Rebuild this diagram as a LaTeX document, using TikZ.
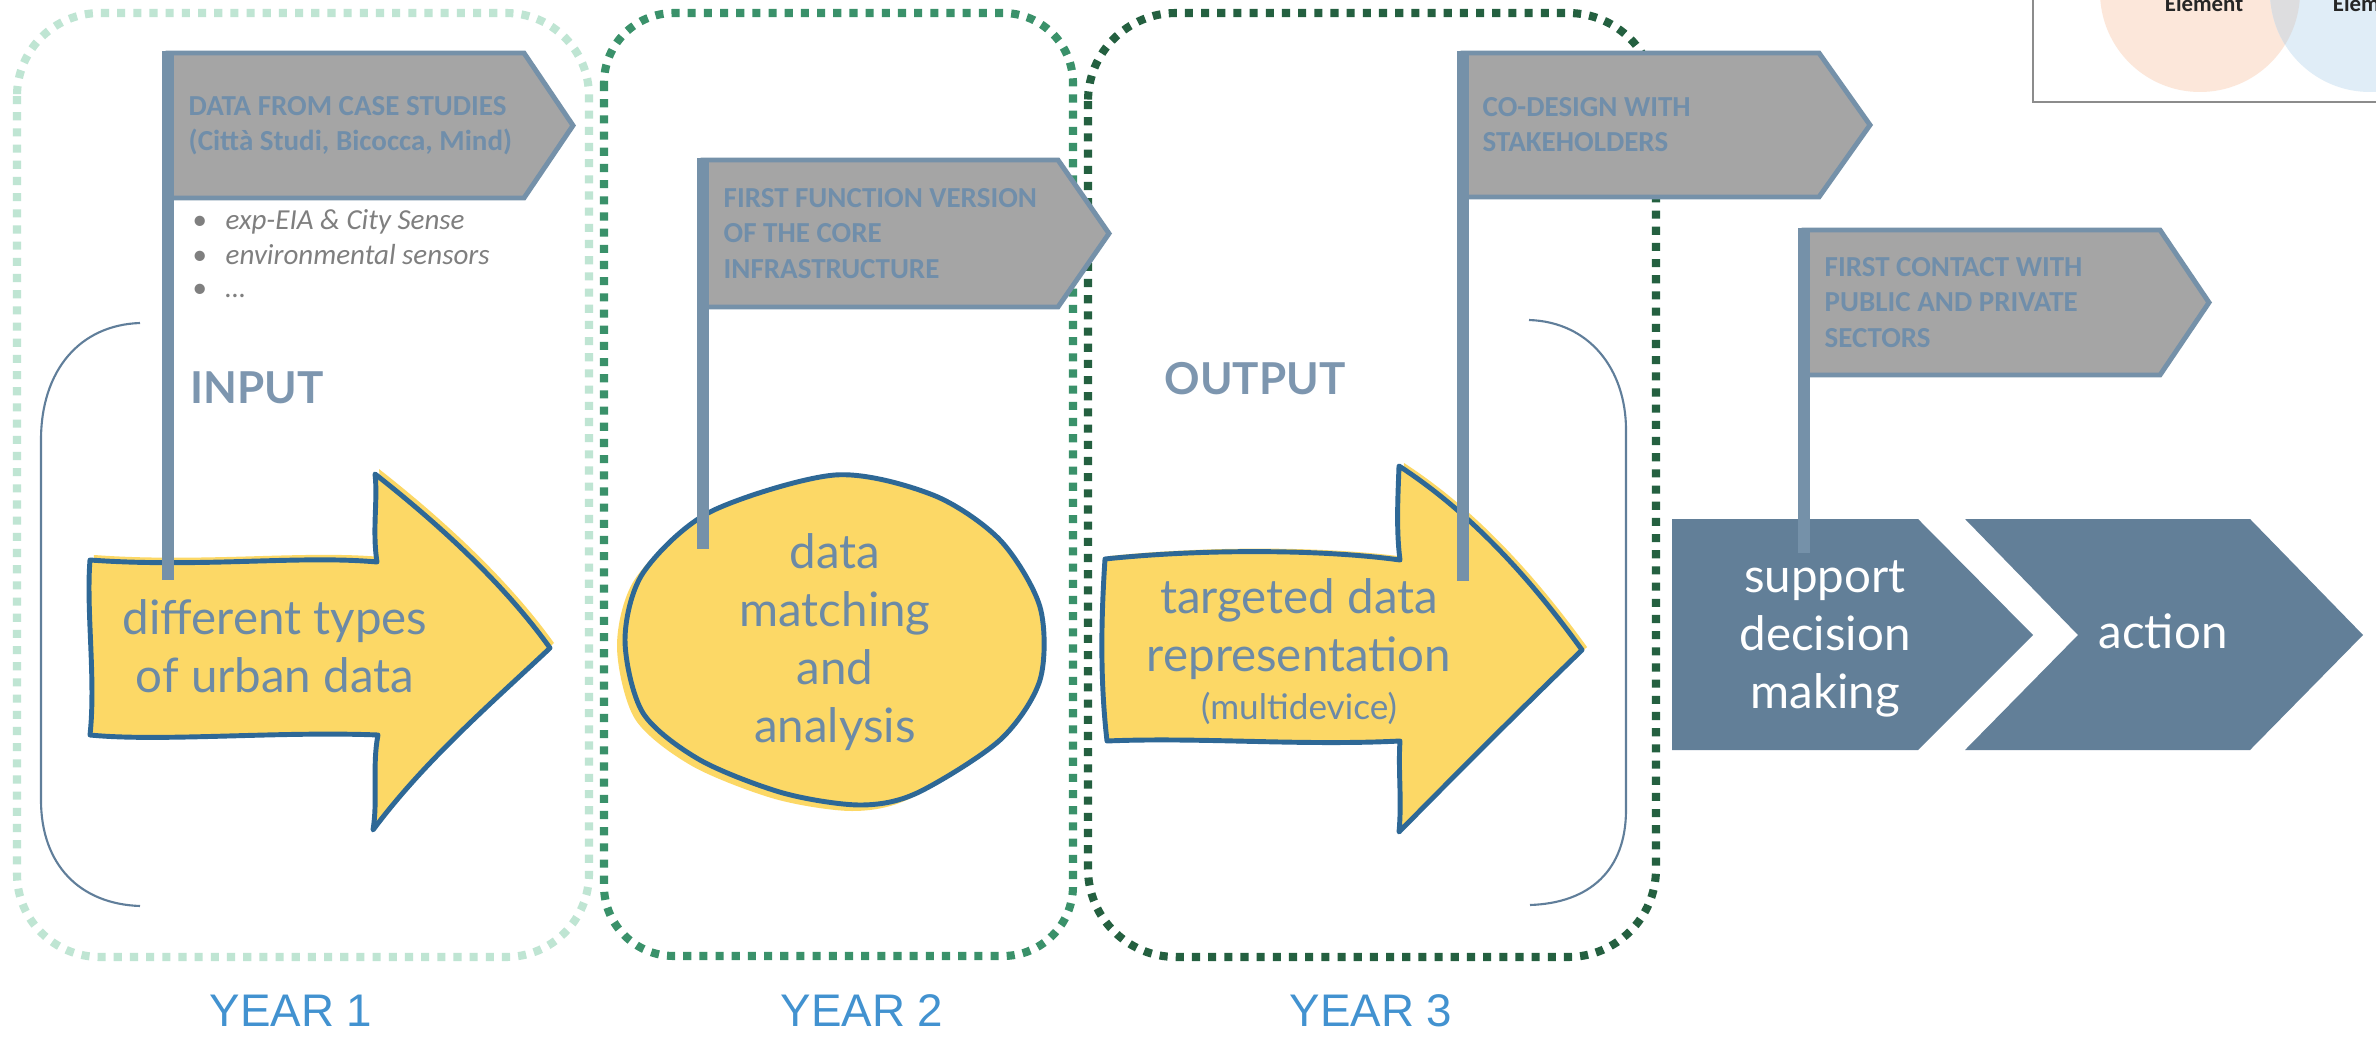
\documentclass[tikz,border=0pt]{standalone}
\usepackage{fontspec}
\setmainfont{Carlito}
\newfontfamily\sketchfont{Lato}
\newfontfamily\yearfont{Liberation Sans}
\usepackage{tikz}
\usetikzlibrary{calc, positioning}
\definecolor{yearone}{RGB}{191,229,211}
\definecolor{yeartwo}{RGB}{58,145,106}
\definecolor{yearthree}{RGB}{36,96,64}
\definecolor{flaggrey}{RGB}{165,165,165}
\definecolor{flagblue}{RGB}{117,145,169}
\definecolor{flagink}{RGB}{112,142,170}
\definecolor{sunyellow}{RGB}{252,216,102}
\definecolor{inkblue}{RGB}{46,104,150}
\definecolor{sketchblue}{RGB}{108,138,166}
\definecolor{tagblue}{RGB}{125,150,175}
\definecolor{stepblue}{RGB}{98,127,152}
\definecolor{braceblue}{RGB}{96,126,154}
\definecolor{yearblue}{RGB}{66,146,208}
\definecolor{bulletgrey}{RGB}{127,127,127}
\definecolor{peach}{RGB}{252,231,218}
\definecolor{skyblue}{RGB}{224,237,247}
\definecolor{overlapgrey}{RGB}{221,221,223}
\definecolor{insetgrey}{RGB}{140,140,140}
\tikzstyle{yearbox} = [line width=2.3pt, dash pattern=on 2.3pt off 2.3pt]
\tikzstyle{brace} = [draw=braceblue, line width=0.6pt]
\tikzstyle{flag} = [draw=flagblue, fill=flaggrey, line width=1.4pt, line join=miter]
\tikzstyle{pole} = [fill=flagblue]
\tikzstyle{flagtext} = [anchor=west, align=left, inner sep=0pt, text=flagink, font=\fontsize{8.25}{10}\selectfont\bfseries]
\tikzstyle{bulletline} = [anchor=base west, inner sep=0pt, text=bulletgrey, font=\fontsize{8.25}{10}\selectfont\itshape]
\tikzstyle{sketchy} = [draw=inkblue, fill=sunyellow, line width=1.4pt, line join=round]
\tikzstyle{urban} = [align=center, inner sep=0pt, text=sketchblue, font=\sketchfont\fontsize{13.5}{16.5}\selectfont]
\tikzstyle{tag} = [inner sep=0pt, text=tagblue, font=\sketchfont\bfseries\fontsize{12.5}{14}\selectfont]
\tikzstyle{stepshape} = [fill=stepblue]
\tikzstyle{yearlabel} = [anchor=base, inner sep=0pt, text=yearblue, font=\yearfont\fontsize{13}{15}\selectfont]
\newcommand{\inputshape}{(90,560) .. controls (200,568) and (300,555) .. (377,562)
	.. controls (372,530) and (378,500) .. (375,474)
	.. controls (440,525) and (505,585) .. (550,648)
	.. controls (495,700) and (425,760) .. (373,830)
	.. controls (378,800) and (372,765) .. (378,735)
	.. controls (280,731) and (160,742) .. (90,735)
	.. controls (96,680) and (86,610) .. (90,560) -- cycle}
\newcommand{\outputshape}{(1105,559) .. controls (1200,549) and (1320,549) .. (1400,560)
	.. controls (1396,530) and (1398,495) .. (1399,466)
	.. controls (1470,512) and (1530,578) .. (1582,650)
	.. controls (1520,710) and (1460,770) .. (1399,832)
	.. controls (1402,800) and (1398,770) .. (1400,741)
	.. controls (1300,746) and (1200,737) .. (1107,741)
	.. controls (1100,680) and (1101,620) .. (1105,559) -- cycle}
\newcommand{\matchshape}{plot[smooth cycle] coordinates {(835,475) (933,495) (1000,540) (1040,607) (1040,680) (1000,740) (917,793) (860,805) (783,793) (700,760) (643,713) (625,640) (643,573) (710,512)}}

\begin{document}
\begin{tikzpicture}[x=0.01cm, y=-0.01cm]
	\useasboundingbox (0,0) rectangle (2376,1040);
	\fill[white] (0,0) rectangle (2376,1040);

	% year frames
	\draw[yearbox, draw=yearone, rounded corners=0.83cm] (17,13) rectangle (589,957);
	\draw[yearbox, draw=yeartwo, rounded corners=0.70cm] (604,13) rectangle (1073,956);
	\draw[yearbox, draw=yearthree, rounded corners=0.88cm] (1088,13) rectangle (1656,957);

	% braces
	\draw[brace] (140,323) .. controls (80,325) and (41,370) .. (41,440) -- (41,800) .. controls (41,865) and (80,904) .. (140,906);
	\draw[brace] (1529,320) .. controls (1590,322) and (1626,370) .. (1626,430) -- (1626,810) .. controls (1626,870) and (1590,903) .. (1530,905);

	% yellow shapes
	\fill[sunyellow, shift={(4,-5)}] \inputshape;
	\draw[sketchy] \inputshape;
	\fill[sunyellow, shift={(-8,6)}] \matchshape;
	\draw[sketchy] \matchshape;
	\fill[sunyellow, shift={(5,-3)}] \outputshape;
	\draw[sketchy] \outputshape;

	% decision steps
	\fill[stepshape] (1672,519) -- (1918,519) -- (2033,635) -- (1918,750) -- (1672,750) -- cycle;
	\fill[stepshape] (1965,519) -- (2250,519) -- (2363,635) -- (2250,750) -- (1965,750) -- (2078,635) -- cycle;

	% flags
	\draw[flag] (168,53) -- (524,53) -- (573,125.5) -- (524,198) -- (168,198) -- cycle;
	\draw[flag] (703,160) -- (1058,160) -- (1109,233.5) -- (1058,307) -- (703,307) -- cycle;
	\draw[flag] (1463,53) -- (1819,53) -- (1870,125) -- (1819,197) -- (1463,197) -- cycle;
	\draw[flag] (1804,230) -- (2160,230) -- (2209,302.5) -- (2160,375) -- (1804,375) -- cycle;
	\fill[pole] (162,51) rectangle (174,580);
	\fill[pole] (697,158) rectangle (709,549);
	\fill[pole] (1457,51) rectangle (1469,581);
	\fill[pole] (1798,228) rectangle (1810,553);

	\node[flagtext] (casestudies) at (188,125.5) {DATA FROM CASE STUDIES\\(Città Studi, Bicocca, Mind)};
	\node[flagtext] (corefirst) at (723,233.5) {FIRST FUNCTION VERSION\\OF THE CORE\\INFRASTRUCTURE};
	\node[flagtext] (codesign) at (1482,125) {CO-DESIGN WITH\\STAKEHOLDERS};
	\node[flagtext] (firstcontact) at (1824,302.5) {FIRST CONTACT WITH\\PUBLIC AND PRIVATE\\SECTORS};

	\node[bulletline] (expeia) at (192,230) {\makebox[0.33cm][l]{\upshape\textbullet}exp-EIA \& City Sense};
	\node[bulletline] (sensors) at (192,265) {\makebox[0.33cm][l]{\upshape\textbullet}environmental sensors};
	\node[bulletline] (others) at (192,298) {\makebox[0.33cm][l]{\upshape\textbullet}…};

	% texts
	\node[tag] (input) at (257,388) {INPUT};
	\node[tag] (output) at (1255,379) {OUTPUT};
	\node[urban] (urbandata) at (275,646) {different types\\of urban data};
	\node[urban] (matching) at (835,642) {data\\matching\\and\\analysis};
	\node[urban] (targeted) at (1299,629) {targeted data\\representation};
	\node[urban, font=\sketchfont\fontsize{10}{12}\selectfont, anchor=base] (multidevice) at (1299,719) {(multidevice)};
	\node[urban, text=white] (support) at (1825,639) {support\\decision\\making};
	\node[urban, text=white, anchor=base] (action) at (2163,648) {action};

	\node[yearlabel] (yearone) at (291,1026) {YEAR 1};
	\node[yearlabel] (yeartwo) at (862,1026) {YEAR 2};
	\node[yearlabel] (yearthree) at (1371,1026) {YEAR 3};

	% inset corner
	\begin{scope}
		\clip (2032,0) rectangle (2376,103);
		\fill[peach] (2200,-8) circle (100);
		\fill[skyblue] (2370,-8) circle (100);
		\begin{scope}
			\clip (2200,-8) circle (100);
			\fill[overlapgrey] (2370,-8) circle (100);
		\end{scope}
		\node[anchor=base, inner sep=0pt, text=black!85, font=\fontsize{6.5}{8}\selectfont\bfseries] (elemleft) at (2204,12) {Element};
		\node[anchor=base, inner sep=0pt, text=black!85, font=\fontsize{6.5}{8}\selectfont\bfseries] (elemright) at (2372,12) {Element};
		\draw[insetgrey, line width=0.6pt] (2033,-10) -- (2033,102) -- (2390,102);
	\end{scope}
\end{tikzpicture}
\end{document}
